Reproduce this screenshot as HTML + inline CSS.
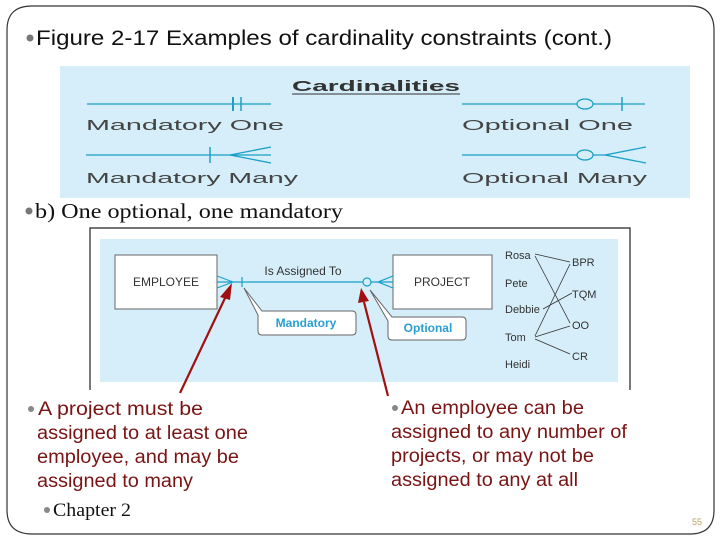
<!DOCTYPE html>
<html><head><meta charset="utf-8"><style>
html,body{margin:0;padding:0;background:#fff;}
svg{display:block;}
</style></head><body>
<svg width="720" height="540" viewBox="0 0 720 540" xmlns="http://www.w3.org/2000/svg">
<path d="M32 6 H690 Q714 6 714 30 V510 Q714 534 690 534 H32 Q7 534 7 510 V30 Q7 6 32 6 Z" fill="none" stroke="#333" stroke-width="1.2"/>
<circle cx="30" cy="38" r="3.5" fill="#777"/>
<text x="36" y="45" font-family="Liberation Sans, sans-serif" font-size="21" fill="#111" textLength="576" lengthAdjust="spacingAndGlyphs">Figure 2-17 Examples of cardinality constraints (cont.)</text>
<rect x="60" y="66" width="630" height="132" fill="#d6eef9"/>
<text x="292" y="91" font-family="Liberation Sans, sans-serif" font-weight="bold" fill="#333" font-size="15" textLength="168" lengthAdjust="spacingAndGlyphs">Cardinalities</text>
<line x1="292" y1="94" x2="460" y2="94" stroke="#333" stroke-width="1"/>
<g stroke="#1aa0c8" stroke-width="1.3" fill="none">
<line x1="87" y1="104" x2="271" y2="104"/>
<line x1="233" y1="97" x2="233" y2="111" stroke-width="2"/>
<line x1="241" y1="97" x2="241" y2="111" stroke-width="1.5"/>
<line x1="86" y1="155" x2="230" y2="155"/>
<line x1="210" y1="147" x2="210" y2="163" stroke-width="1.5"/>
<line x1="230" y1="155" x2="271" y2="147"/>
<line x1="230" y1="155" x2="271" y2="155"/>
<line x1="230" y1="155" x2="271" y2="163"/>
<line x1="462" y1="104" x2="645" y2="104"/>
<ellipse cx="585" cy="104" rx="8" ry="5" fill="#d6eef9"/>
<line x1="622" y1="97" x2="622" y2="111" stroke-width="1.5"/>
<line x1="462" y1="155" x2="605" y2="155"/>
<ellipse cx="585" cy="155" rx="8" ry="5" fill="#d6eef9"/>
<line x1="605" y1="155" x2="646" y2="147"/>
<line x1="605" y1="155" x2="646" y2="163"/>
</g>
<g font-family="Liberation Sans, sans-serif" font-size="15" fill="#444">
<text x="86" y="130" textLength="198" lengthAdjust="spacingAndGlyphs">Mandatory One</text>
<text x="86" y="183" textLength="212" lengthAdjust="spacingAndGlyphs">Mandatory Many</text>
<text x="462" y="130" textLength="171" lengthAdjust="spacingAndGlyphs">Optional One</text>
<text x="462" y="183" textLength="185" lengthAdjust="spacingAndGlyphs">Optional Many</text>
</g>
<circle cx="29" cy="211" r="3.5" fill="#777"/>
<text x="35" y="218" font-family="Liberation Serif, serif" font-size="21" fill="#111" textLength="308" lengthAdjust="spacingAndGlyphs">b) One optional, one mandatory</text>
<path d="M90 390 V228 H630 V390" fill="none" stroke="#222" stroke-width="1.2"/>
<rect x="100" y="239" width="518" height="143" fill="#d6eef9"/>
<rect x="115" y="255" width="102" height="54" fill="#fff" stroke="#666"/>
<rect x="393" y="255" width="99" height="54" fill="#fff" stroke="#666"/>
<g font-family="Liberation Sans, sans-serif" font-size="12" fill="#333">
<text x="166" y="286" text-anchor="middle">EMPLOYEE</text>
<text x="442" y="286" text-anchor="middle">PROJECT</text>
<text x="303" y="275" text-anchor="middle">Is Assigned To</text>
</g>
<g stroke="#1aa0c8" stroke-width="1.2" fill="none">
<line x1="217" y1="282" x2="393" y2="282"/>
<line x1="217" y1="276" x2="233" y2="282"/>
<line x1="217" y1="288" x2="233" y2="282"/>
<line x1="242" y1="277" x2="242" y2="287"/>
<circle cx="367" cy="282" r="4" fill="#d6eef9"/>
<line x1="393" y1="276" x2="378" y2="282"/>
<line x1="393" y1="288" x2="378" y2="282"/>
</g>
<g stroke="#666" stroke-width="1" fill="#fff">
<path d="M244 288 L262 311 H352 Q356 311 356 315 V331 Q356 335 352 335 H262 Q258 335 258 331 V315 Z"/>
<path d="M370 290 L392 317 H462 Q466 317 466 321 V336 Q466 340 462 340 H392 Q388 340 388 336 V321 Z"/>
</g>
<g font-family="Liberation Sans, sans-serif" font-size="12" font-weight="bold" fill="#2a9fd0">
<text x="306" y="327" text-anchor="middle">Mandatory</text>
<text x="428" y="332" text-anchor="middle">Optional</text>
</g>
<g font-family="Liberation Sans, sans-serif" font-size="11" fill="#333">
<text x="505" y="259">Rosa</text>
<text x="505" y="287">Pete</text>
<text x="505" y="313">Debbie</text>
<text x="505" y="341">Tom</text>
<text x="505" y="368">Heidi</text>
<text x="572" y="266">BPR</text>
<text x="572" y="298">TQM</text>
<text x="572" y="329">OO</text>
<text x="572" y="360">CR</text>
</g>
<g stroke="#333" stroke-width="0.8">
<line x1="535" y1="254" x2="570" y2="262"/>
<line x1="535" y1="256" x2="570" y2="323"/>
<line x1="543" y1="309" x2="572" y2="293"/>
<line x1="535" y1="336" x2="570" y2="264"/>
<line x1="535" y1="337" x2="570" y2="326"/>
<line x1="535" y1="339" x2="570" y2="354"/>
</g>
<g stroke="#a01010" stroke-width="2.2" fill="#a01010">
<line x1="180" y1="393" x2="226" y2="296"/>
<polygon points="232,283 220,297 230,300" stroke="none"/>
<line x1="388" y1="396" x2="364" y2="302"/>
<polygon points="361,288 358,303 369,301" stroke="none"/>
</g>
<g font-family="Liberation Sans, sans-serif" font-size="19" fill="#7a1414">
<circle cx="31" cy="409" r="3" fill="#888"/>
<text x="38" y="415" textLength="165" lengthAdjust="spacingAndGlyphs">A project must be</text>
<text x="37" y="439" textLength="211" lengthAdjust="spacingAndGlyphs">assigned to at least one</text>
<text x="37" y="463" textLength="202" lengthAdjust="spacingAndGlyphs">employee, and may be</text>
<text x="37" y="487" textLength="156" lengthAdjust="spacingAndGlyphs">assigned to many</text>
<circle cx="395" cy="408" r="3" fill="#888"/>
<text x="401" y="414" textLength="183" lengthAdjust="spacingAndGlyphs">An employee can be</text>
<text x="391" y="438" textLength="236" lengthAdjust="spacingAndGlyphs">assigned to any number of</text>
<text x="391" y="462" textLength="203" lengthAdjust="spacingAndGlyphs">projects, or may not be</text>
<text x="391" y="486" textLength="187" lengthAdjust="spacingAndGlyphs">assigned to any at all</text>
</g>
<circle cx="47" cy="510" r="3" fill="#888"/>
<text x="53" y="516" font-family="Liberation Serif, serif" font-size="19" fill="#111" textLength="78" lengthAdjust="spacingAndGlyphs">Chapter 2</text>
<text x="697" y="525" font-family="Liberation Sans, sans-serif" font-size="9" fill="#b8a060" text-anchor="middle">55</text>
</svg>
</body></html>
